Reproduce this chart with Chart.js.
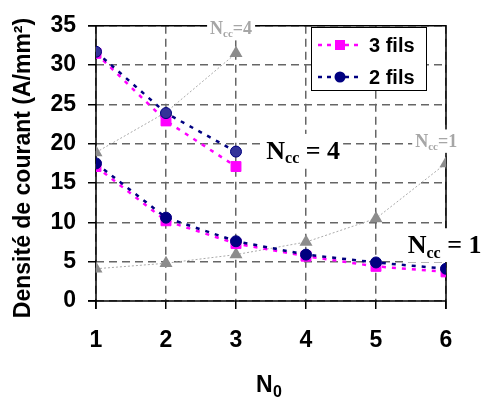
<!DOCTYPE html>
<html>
<head>
<meta charset="utf-8">
<script src="https://cdn.jsdelivr.net/npm/chart.js@4"></script>
<style>
  html, body { margin: 0; padding: 0; background: #fff; }
  #wrap { width: 486px; height: 399px; }
</style>
</head>
<body>
<div id="wrap"><canvas id="chart" width="486" height="399"></canvas></div>
<script>
  // N0 values along the x axis
  const n0 = [1, 2, 3, 4, 5, 6];
  // current density (A/mm²), Ncc = 4 curves only go to N0 = 3
  const fils3Ncc4 = [31.5, 22.9, 17.1];
  const fils2Ncc4 = [31.7, 23.9, 19.0];
  const fils3Ncc1 = [17.1, 10.2, 7.3, 5.7, 4.4, 3.7];
  const fils2Ncc1 = [17.5, 10.6, 7.6, 5.9, 4.9, 4.1];
  // grey triangle curves
  const greyNcc4 = [18.9, 24.0, 31.5];
  const greyNcc1 = [4.1, 4.8, 5.9, 7.5, 10.5, 17.5];
  const yTicks = [0, 5, 10, 15, 20, 25, 30, 35];

  const pts = vals => vals.map((v, i) => ({ x: n0[i], y: v }));

  const MAG = '#ff00ff', NAVY = '#000080';
  const sans = "'Liberation Sans', Arial, sans-serif";
  const serif = "'Liberation Serif', 'Times New Roman', serif";

  const colored = (label, data, color, style, fill) => ({
    label, data: pts(data),
    borderColor: color, borderWidth: 2.5, borderDash: [4, 6],
    pointStyle: style, pointRadius: style === 'rect' ? 7 : 5.5,
    pointBackgroundColor: fill || color, pointBorderColor: color, pointBorderWidth: 1,
    tension: 0, fill: false
  });
  const grey = data => ({
    label: 'grey', data: pts(data),
    borderColor: '#aaaaaa', borderWidth: 1, borderDash: [2, 2],
    pointStyle: 'triangle', pointRadius: 7.5,
    pointBackgroundColor: '#8c8c8c', pointBorderColor: '#8c8c8c', pointBorderWidth: 0
  });

  // N_cc label with subscript, on a white patch
  function nccLabel(ctx, px, py, size, sub, color, tail) {
    ctx.font = `bold ${size}px ${serif}`;
    const wN = ctx.measureText('N').width, wT = ctx.measureText(tail).width;
    ctx.font = `bold ${sub}px ${serif}`;
    const wC = ctx.measureText('cc').width;
    const w = wN + wC + wT, x0 = px - w / 2;
    ctx.fillStyle = '#fff';
    ctx.fillRect(x0 - 3, py - size * 0.62, w + 6, size * 1.3);
    ctx.fillStyle = color;
    ctx.textAlign = 'left'; ctx.textBaseline = 'alphabetic';
    const base = py + size * 0.33;
    ctx.font = `bold ${size}px ${serif}`; ctx.fillText('N', x0, base);
    ctx.font = `bold ${sub}px ${serif}`; ctx.fillText('cc', x0 + wN, base + size * 0.18);
    ctx.font = `bold ${size}px ${serif}`; ctx.fillText(tail, x0 + wN + wC, base);
  }

  // frame, annotations, custom legend and axis titles
  const extras = {
    id: 'extras',
    beforeDatasetsDraw(chart) {
      const { ctx, chartArea: a } = chart;
      ctx.save();
      ctx.strokeStyle = '#000'; ctx.lineWidth = 1.5; ctx.setLineDash([]);
      ctx.beginPath();
      ctx.moveTo(a.left - 8, a.top); ctx.lineTo(a.right, a.top);
      ctx.lineTo(a.right, a.bottom + 8);
      ctx.moveTo(a.left - 8, a.bottom); ctx.lineTo(a.right, a.bottom);
      ctx.moveTo(a.left, a.top); ctx.lineTo(a.left, a.bottom + 8);
      ctx.stroke();
      ctx.restore();
    },
    afterDatasetsDraw(chart) {
      const { ctx, scales: { x, y } } = chart;
      ctx.save();
      nccLabel(ctx, x.getPixelForValue(2.93), y.getPixelForValue(34.7), 18, 11, '#a6a6a6', '=4');
      nccLabel(ctx, x.getPixelForValue(5.86), y.getPixelForValue(20.4), 18, 11, '#a6a6a6', '=1');
      nccLabel(ctx, x.getPixelForValue(3.96), y.getPixelForValue(19.2), 26, 16, '#000', ' = 4');
      nccLabel(ctx, x.getPixelForValue(5.98), y.getPixelForValue(7.2), 26, 16, '#000', ' = 1');
      ctx.restore();

      // legend box
      ctx.save();
      const lx = 311, ly = 27, lw = 115, lh = 63;
      ctx.fillStyle = '#fff'; ctx.fillRect(lx, ly, lw, lh);
      ctx.strokeStyle = '#000'; ctx.lineWidth = 1; ctx.setLineDash([]);
      ctx.strokeRect(lx + 0.5, ly + 0.5, lw, lh);
      const entries = [[chart.data.datasets[2], 45], [chart.data.datasets[1], 77]];
      entries.forEach(([ds, ey]) => {
        ctx.strokeStyle = ds.borderColor; ctx.lineWidth = 2.5; ctx.setLineDash([4, 5]);
        ctx.beginPath(); ctx.moveTo(318, ey); ctx.lineTo(361, ey); ctx.stroke();
        ctx.setLineDash([]);
        ctx.fillStyle = ds.pointBackgroundColor;
        if (ds.pointStyle === 'rect') ctx.fillRect(335, ey - 5, 10, 10);
        else { ctx.beginPath(); ctx.arc(340, ey, 5.5, 0, Math.PI * 2); ctx.fill(); }
        ctx.fillStyle = '#000'; ctx.font = `bold 20px ${sans}`;
        ctx.textBaseline = 'middle'; ctx.textAlign = 'left';
        ctx.fillText(ds.label, 369, ey + 1);
      });
      ctx.restore();

      // axis titles
      ctx.save();
      ctx.fillStyle = '#000';
      ctx.translate(24, 168); ctx.rotate(-Math.PI / 2);
      ctx.font = `bold 23px ${sans}`; ctx.textAlign = 'center'; ctx.textBaseline = 'middle';
      ctx.fillText('Densité de courant (A/mm²)', 0, 0);
      ctx.restore();
      ctx.save();
      ctx.fillStyle = '#000'; ctx.textAlign = 'left'; ctx.textBaseline = 'alphabetic';
      ctx.font = `bold 23px ${sans}`;
      ctx.fillText('N', 256, 392);
      ctx.font = `bold 16px ${sans}`;
      ctx.fillText('0', 273, 397);
      ctx.restore();
    }
  };

  new Chart(document.getElementById('chart').getContext('2d'), {
    type: 'line',
    data: {
      datasets: [
        colored('2 fils', fils2Ncc4, NAVY, 'circle', '#333399'),
        colored('2 fils', fils2Ncc1, NAVY, 'circle'),
        colored('3 fils', fils3Ncc4, MAG, 'rect'),
        colored('3 fils', fils3Ncc1, MAG, 'rect'),
        grey(greyNcc4),
        grey(greyNcc1)
      ]
    },
    options: {
      responsive: false,
      animation: false,
      layout: { padding: { left: 0, right: 40, top: 20, bottom: 0 } },
      plugins: { legend: { display: false }, tooltip: { enabled: false } },
      scales: {
        x: {
          type: 'linear', min: 1, max: 6,
          afterFit: s => { s.height = 98; },
          afterBuildTicks: s => { s.ticks = n0.map(v => ({ value: v })); },
          grid: { color: '#666', lineWidth: 1.5, tickLength: 8, tickColor: '#000', tickWidth: 1.5 },
          border: { dash: [8, 5], display: false },
          ticks: { color: '#000', font: { family: sans, size: 23, weight: 'bold' }, padding: 18, maxRotation: 0 }
        },
        y: {
          min: 0, max: 35,
          afterFit: s => { s.width = 96; },
          afterBuildTicks: s => { s.ticks = yTicks.map(v => ({ value: v })); },
          grid: { color: '#666', lineWidth: 1.5, tickLength: 8, tickColor: '#000', tickWidth: 1.5 },
          border: { dash: [8, 5], display: false },
          ticks: { color: '#000', font: { family: sans, size: 23, weight: 'bold' }, padding: 12 }
        }
      }
    },
    plugins: [extras]
  });
</script>
</body>
</html>
